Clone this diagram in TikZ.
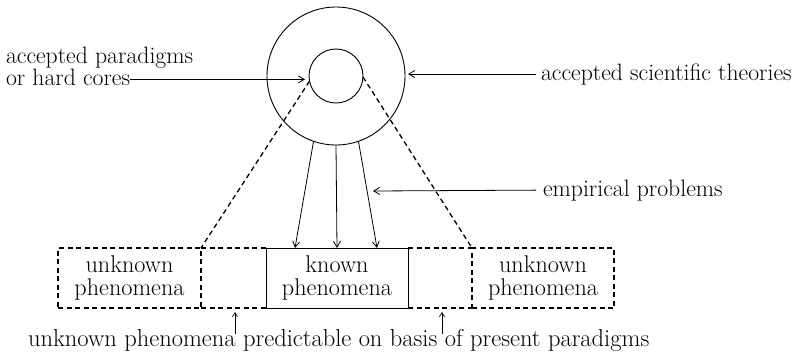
\documentclass[tikz,border=0pt]{standalone}
\usetikzlibrary{arrows.meta,calc}
\begin{document}
\begin{tikzpicture}[x=1pt,y=-1pt,
  lbl/.style={inner sep=0pt,outer sep=0pt,font=\fontsize{23.7}{24}\selectfont},
  boxtxt/.style={inner sep=0pt,outer sep=0pt,minimum height=60pt,align=center,
     font=\fontsize{24.2}{23}\selectfont},
  dbox/.style={boxtxt,draw,line width=1.3pt,dash pattern=on 5pt off 3.5pt},
  obox/.style={boxtxt},
  sbox/.style={boxtxt,draw,line width=0.9pt},
  ring/.style={circle,draw,line width=0.9pt,inner sep=0pt,outer sep=0pt},
  arr/.style={line width=0.8pt,-{Straight Barb[length=6pt,width=7pt]}},
  sarr/.style={line width=0.7pt,-{Straight Barb[length=4pt,width=5pt]}},
  dline/.style={line width=1.3pt,dash pattern=on 5pt off 3.5pt}]
\useasboundingbox (0,0) rectangle (795,357);
% circles
\node[ring,minimum size=138pt] (outer) at (336,76) {};
\node[ring,minimum size=54pt] (inner) at (336,76) {};
% boxes
\node[dbox,minimum width=143pt,anchor=north west] (L) at (58,248) {unknown\\phenomena};
\node[obox,minimum width=65pt,anchor=north west] (ML) at (201,248) {};
\node[sbox,minimum width=142pt,anchor=north west] (K) at (266,248) {known\\phenomena};
\node[obox,minimum width=64pt,anchor=north west] (MR) at (408,248) {};
\node[dbox,minimum width=142pt,anchor=north west] (R) at (472,248) {unknown\\phenomena};
\draw[dline] (ML.north west) -- (ML.north east);
\draw[dline] (ML.south west) -- (ML.south east);
\draw[dline] (MR.north west) -- (MR.north east);
\draw[dline] (MR.south west) -- (MR.south east);
% labels
\node[lbl,anchor=base west] (ap1) at (6,63) {accepted paradigms};
\node[lbl,anchor=base west] (ap2) at (6,85) {or hard cores};
\node[lbl,anchor=base west] (ast) at (541,80) {accepted scientific theories};
\node[lbl,anchor=base west] (ep) at (543,196) {empirical problems};
\node[inner sep=0pt,outer sep=0pt,font=\fontsize{24.5}{24}\selectfont,anchor=base west] (bt) at (28,346)
  {unknown phenomena predictable on basis of present paradigms};
\coordinate (epTip) at (373,191);
% label arrows
\draw[arr,shorten >=4pt] ([yshift=-2.5pt]ap2.east) -- ([yshift=-2.5pt]ap2.east -| inner.west);
\draw[arr,shorten <=5pt,shorten >=3pt] (ast.west) -- (ast.west -| outer.east);
\draw[arr,shorten <=7pt] (ep.west) -- (epTip);
% empirical arrows
\draw[arr] (outer.251) -- ([xshift=-42pt]K.north);
\draw[arr] (outer.270) -- (K.north);
\draw[arr] (outer.289) -- ([xshift=40pt]K.north);
% dashed projection lines
\draw[dline] (inner.191) -- (ML.north west);
\draw[dline] (inner.358) -- (MR.north east);
% bottom arrows
\draw[sarr,shorten >=4pt] ($(ML.south |- bt.north)+(1.5,5)$) -- ([xshift=1.5pt]ML.south);
\draw[sarr,shorten >=4pt] ($(MR.south |- bt.north)+(2,5)$) -- ([xshift=2pt]MR.south);
\end{tikzpicture}
\end{document}
